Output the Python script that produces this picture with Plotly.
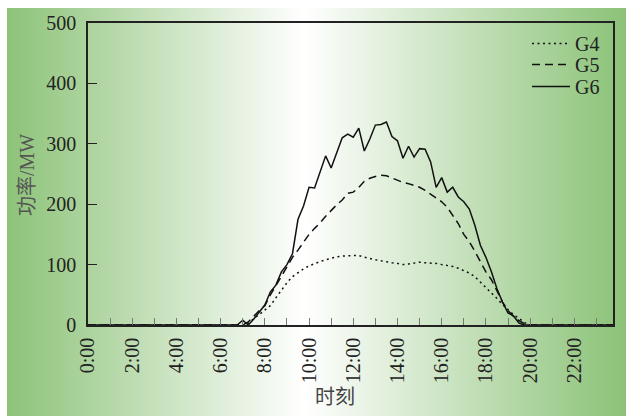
import base64
import plotly.graph_objects as go

# ---- data (15-min steps, index 0 = 0:00 ... 95 = 23:45) ----
tick_positions = [0, 4, 8, 12, 16, 20, 24, 28, 32, 36, 40, 44, 48, 52, 56, 60, 64, 68, 72, 76, 80, 84, 88, 92]
tick_labels = ["0:00", "", "2:00", "", "4:00", "", "6:00", "", "8:00", "", "10:00", "", "12:00", "",
               "14:00", "", "16:00", "", "18:00", "", "20:00", "", "22:00", ""]

g4 = [0, 0, 0, 0, 0, 0, 0, 0, 0, 0, 0, 0, 0, 0, 0, 0,
      0, 0, 0, 0, 0, 0, 0, 0, 0, 0, 0, 0, 0, 3, 10, 17,
      24, 32, 45, 58, 70, 80, 87, 93, 98, 102, 105, 108, 111, 113, 114, 115,
      115, 115, 112, 110, 108, 106, 104, 103, 102, 100, 101, 102, 104, 103, 103, 102,
      100, 99, 97, 94, 90, 86, 80, 71, 62, 54, 44, 34, 25, 17, 11, 4,
      0, 0, 0, 0, 0, 0, 0, 0, 0, 0, 0, 0, 0, 0, 0, 0]

g5 = [0, 0, 0, 0, 0, 0, 0, 0, 0, 0, 0, 0, 0, 0, 0, 0,
      0, 0, 0, 0, 0, 0, 0, 0, 0, 0, 0, 0, 0, 5, 15, 24,
      32, 50, 65, 80, 95, 112, 124, 138, 150, 160, 169, 180, 190, 199, 207, 218,
      220, 228, 238, 243, 246, 248, 247, 243, 240, 236, 234, 231, 228, 223, 217, 210,
      204, 195, 182, 168, 150, 138, 122, 105, 88, 75, 55, 38, 24, 14, 7, 2,
      0, 0, 0, 0, 0, 0, 0, 0, 0, 0, 0, 0, 0, 0, 0, 0]

g6 = [0, 0, 0, 0, 0, 0, 0, 0, 0, 0, 0, 0, 0, 0, 0, 0,
      0, 0, 0, 0, 0, 0, 0, 0, 0, 0, 0, 0, 8, 0, 10, 22,
      33, 55, 66, 88, 100, 118, 175, 197, 228, 227, 255, 280, 260, 285, 310, 316,
      311, 326, 288, 308, 331, 332, 336, 312, 305, 276, 296, 278, 292, 291, 270, 228,
      244, 220, 228, 212, 204, 192, 165, 132, 112, 88, 60, 38, 20, 15, 3, 0,
      0, 0, 0, 0, 0, 0, 0, 0, 0, 0, 0, 0, 0, 0, 0, 0]

series_names = ["G4", "G5", "G6"]
series_values = [g4, g5, g6]
series_dash = ["2px,3.5px", "8px,5px", "solid"]
x_index = list(range(len(g4)))

# ---- figure geometry ----
W, H = 628, 416
L, R, T, B = 88, 15, 23, 91
pw, ph = W - L - R, H - T - B

def px_to_paper_x(p):
    return (p - L) / pw

def px_to_paper_y(p):
    return (H - B - p) / ph

font_family = "Liberation Serif, Times New Roman, Noto Sans CJK SC, serif"

fig = go.Figure()
legend_ids = ["legend", "legend2", "legend3"]
legend_tops = [24, 45, 67]
for name, vals, dash, lid in zip(series_names, series_values, series_dash, legend_ids):
    fig.add_trace(go.Scatter(
        x=x_index, y=vals, name=name, mode="lines", legend=lid,
        line=dict(color="#111111", width=1.5, dash=dash),
    ))

legend_layout = {}
for lid, top in zip(legend_ids, legend_tops):
    legend_layout[lid] = dict(
        x=px_to_paper_x(527), y=px_to_paper_y(top), xanchor="left", yanchor="top",
        bgcolor="rgba(0,0,0,0)", borderwidth=0,
        font=dict(family=font_family, size=20, color="#222222"),
        itemwidth=38,
    )

# background gradient (green - white - green)
svg = ('<svg xmlns="http://www.w3.org/2000/svg" width="620" height="10" preserveAspectRatio="none">'
       '<defs><linearGradient id="g" x1="0" y1="0" x2="1" y2="0">'
       '<stop offset="0" stop-color="#8dc379"/>'
       '<stop offset="0.48" stop-color="#ffffff"/>'
       '<stop offset="1" stop-color="#8bc277"/>'
       '</linearGradient></defs>'
       '<rect width="620" height="10" fill="url(#g)"/></svg>')
src = "data:image/svg+xml;base64," + base64.b64encode(svg.encode()).decode()
gx0, gx1, gy0, gy1 = 7, 626, 8, 416
fig.add_layout_image(dict(
    source=src, xref="paper", yref="paper",
    x=px_to_paper_x(gx0), y=px_to_paper_y(gy0),
    sizex=px_to_paper_x(gx1) - px_to_paper_x(gx0),
    sizey=px_to_paper_y(gy0) - px_to_paper_y(gy1),
    xanchor="left", yanchor="top", sizing="stretch", layer="below",
))

fig.update_layout(
    width=W, height=H,
    margin=dict(l=L, r=R, t=T, b=B, pad=0),
    paper_bgcolor="white",
    plot_bgcolor="rgba(0,0,0,0)",
    font=dict(family=font_family, size=20, color="#222222"),
    showlegend=True,
    xaxis=dict(
        range=[0, 95], tickmode="array", tickvals=tick_positions, ticktext=tick_labels,
        tickangle=-90, ticks="inside", ticklen=7, tickwidth=1, tickcolor="#777777",
        showline=True, linecolor="#222222", linewidth=1.6, mirror=True,
        showgrid=False, zeroline=False, ticklabelstandoff=3,
        tickfont=dict(family=font_family, size=20, color="#222222"),
    ),
    yaxis=dict(
        range=[0, 500], tickmode="array", tickvals=[0, 100, 200, 300, 400, 500],
        ticks="inside", ticklen=9, tickwidth=1.2, tickcolor="#222222",
        showline=True, linecolor="#222222", linewidth=1.5, mirror=True,
        showgrid=False, zeroline=False, ticklabelstandoff=6,
        tickfont=dict(family=font_family, size=20, color="#222222"),
    ),
    annotations=[
        dict(text="时刻", xref="paper", yref="paper", x=px_to_paper_x(335), y=px_to_paper_y(397),
             xanchor="center", yanchor="middle", showarrow=False,
             font=dict(family=font_family, size=20, color="#444444")),
        dict(text="功率/MW", xref="paper", yref="paper", x=px_to_paper_x(27), y=px_to_paper_y(175),
             xanchor="center", yanchor="middle", showarrow=False, textangle=-90,
             font=dict(family=font_family, size=20, color="#555555")),
    ],
    **legend_layout,
)

fig.write_html("out.html")
